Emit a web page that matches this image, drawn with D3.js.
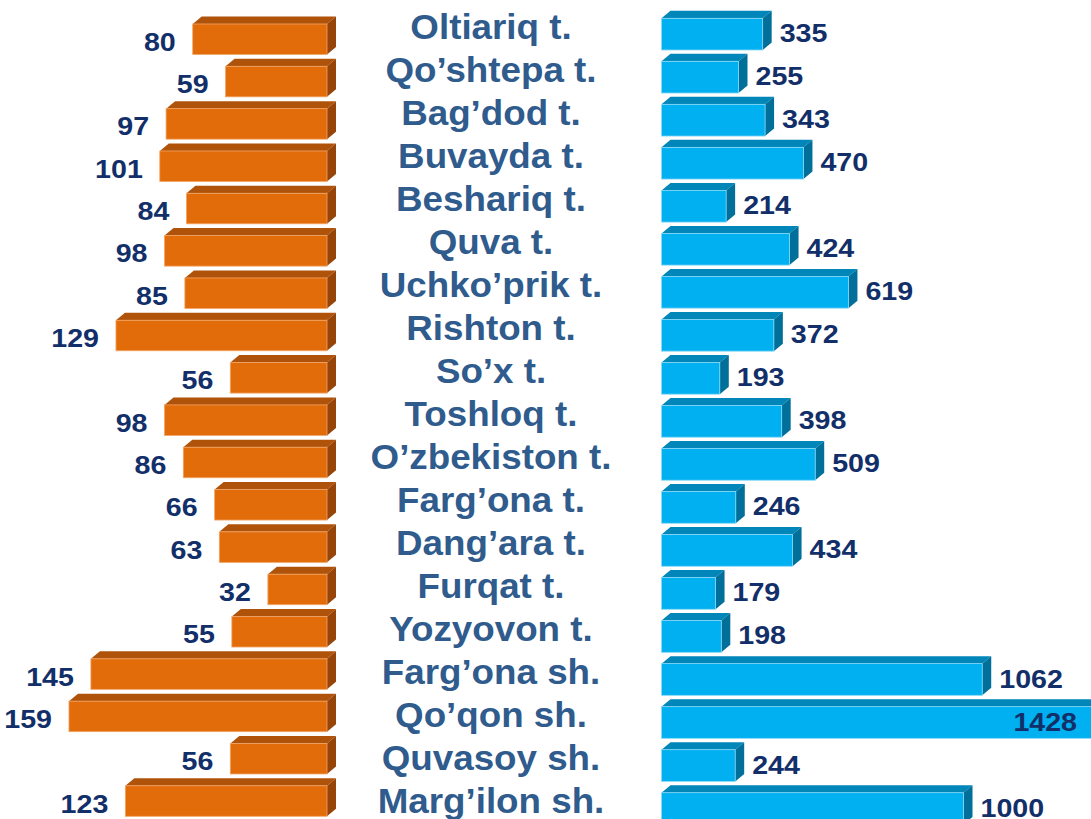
<!DOCTYPE html>
<html>
<head>
<meta charset="utf-8">
<script src="https://cdn.jsdelivr.net/npm/d3@7/dist/d3.min.js"></script>
<style>
  html, body { margin: 0; padding: 0; background: #ffffff; }
  svg { display: block; }
  text { font-family: "Liberation Sans", Arial, sans-serif; font-weight: bold; }
</style>
</head>
<body>
<svg id="chart" width="1091" height="819"></svg>
<script>
// District / city names (centre column)
const districts = [
  "Oltiariq t.", "Qo’shtepa t.", "Bag’dod t.", "Buvayda t.", "Beshariq t.",
  "Quva t.", "Uchko’prik t.", "Rishton t.", "So’x t.", "Toshloq t.",
  "O’zbekiston t.", "Farg’ona t.", "Dang’ara t.", "Furqat t.", "Yozyovon t.",
  "Farg’ona sh.", "Qo’qon sh.", "Quvasoy sh.", "Marg’ilon sh."
];

// Left series (orange bars)
const leftValues = [80, 59, 97, 101, 84, 98, 85, 129, 56, 98, 86, 66, 63, 32, 55, 145, 159, 56, 123];

// Right series (blue bars)
const rightValues = [335, 255, 343, 470, 214, 424, 619, 372, 193, 398, 509, 246, 434, 179, 198, 1062, 1428, 244, 1000];

const W = 1091, H = 819;
const svg = d3.select("#chart");

const rows = districts.map((d, i) => ({ name: d, left: leftValues[i], right: rightValues[i], i }));

// 3D extrusion of the bars
const DX = 9, DY = 7.5;

const LABEL_COLOR = "#122f69";
const NAME_COLOR = "#2f5b8d";
const LABEL_SIZE = 26, LABEL_SX = 1.1;

function valueLabel(g, x, y, anchor, txt) {
  return g.append("text")
    .attr("transform", `translate(${x},${y}) scale(${LABEL_SX},1)`)
    .attr("text-anchor", anchor)
    .attr("dominant-baseline", "central")
    .attr("font-size", LABEL_SIZE)
    .attr("fill", LABEL_COLOR)
    .text(txt);
}

// ----- Left (orange) panel -----
const leftFrontRight = 327;
const xL = d3.scaleLinear().domain([0, 160]).range([leftFrontRight - 9, leftFrontRight - 9 - 250.6]);
const yL = d3.scaleBand().domain(districts).range([24, 816.3]).paddingInner(0.279).paddingOuter(0);

const orange = { front: "#e36c0a", top: "#b0530a", side: "#964407", edge: "#f2a566" };
const gL = svg.append("g");
rows.forEach(r => {
  const x0 = xL(r.left), x1 = leftFrontRight;
  const y = yL(r.name), h = yL.bandwidth();
  const g = gL.append("g");
  g.append("polygon")
    .attr("points", [[x0, y], [x1, y], [x1 + DX, y - DY], [x0 + DX, y - DY]].map(p => p.join(",")).join(" "))
    .attr("fill", orange.top);
  g.append("polygon")
    .attr("points", [[x1, y], [x1 + DX, y - DY], [x1 + DX, y + h - DY], [x1, y + h]].map(p => p.join(",")).join(" "))
    .attr("fill", orange.side);
  g.append("rect")
    .attr("x", x0).attr("y", y).attr("width", x1 - x0).attr("height", h)
    .attr("fill", orange.front)
    .attr("stroke", orange.edge).attr("stroke-width", 0.8);
  valueLabel(g, x0 - 17, y + h / 2 + 2.5, "end", r.left);
});

// ----- Right (blue) panel -----
const rightFrontLeft = 661.5;
const xR = d3.scaleLinear().domain([0, 1500]).range([rightFrontLeft, rightFrontLeft + 453]);
const yR = d3.scaleBand().domain(districts).range([18.3, 824.4]).paddingInner(0.263).paddingOuter(0);

const blue = { front: "#00b0f0", top: "#0086b8", side: "#006f99", edge: "#8ad9f7" };
const gR = svg.append("g");
rows.forEach(r => {
  const x0 = rightFrontLeft, x1 = xR(r.right);
  const y = yR(r.name), h = yR.bandwidth();
  const g = gR.append("g");
  g.append("polygon")
    .attr("points", [[x0, y], [x1, y], [x1 + DX, y - DY], [x0 + DX, y - DY]].map(p => p.join(",")).join(" "))
    .attr("fill", blue.top);
  g.append("polygon")
    .attr("points", [[x1, y], [x1 + DX, y - DY], [x1 + DX, y + h - DY], [x1, y + h]].map(p => p.join(",")).join(" "))
    .attr("fill", blue.side);
  g.append("rect")
    .attr("x", x0).attr("y", y).attr("width", x1 - x0).attr("height", h)
    .attr("fill", blue.front)
    .attr("stroke", blue.edge).attr("stroke-width", 0.8);
  const ly = y + h / 2 - 1;
  const t = valueLabel(g, x1 + 17, ly, "start", r.right);
  // labels that would run off the page sit inside the bar end
  const len = t.node().getComputedTextLength() * LABEL_SX;
  if (x1 + 17 + len > W - 4) {
    t.attr("transform", `translate(${W - 14},${ly}) scale(${LABEL_SX},1)`).attr("text-anchor", "end");
  }
});

// ----- Centre names -----
const yN = d3.scalePoint().domain(districts).range([26, 800.8]);
svg.append("g").selectAll("text")
  .data(rows)
  .join("text")
  .attr("transform", d => `translate(491,${yN(d.name) + 12.5}) scale(1.05,1)`)
  .attr("text-anchor", "middle")
  .attr("font-size", 35)
  .attr("fill", NAME_COLOR)
  .text(d => d.name);
</script>
</body>
</html>
